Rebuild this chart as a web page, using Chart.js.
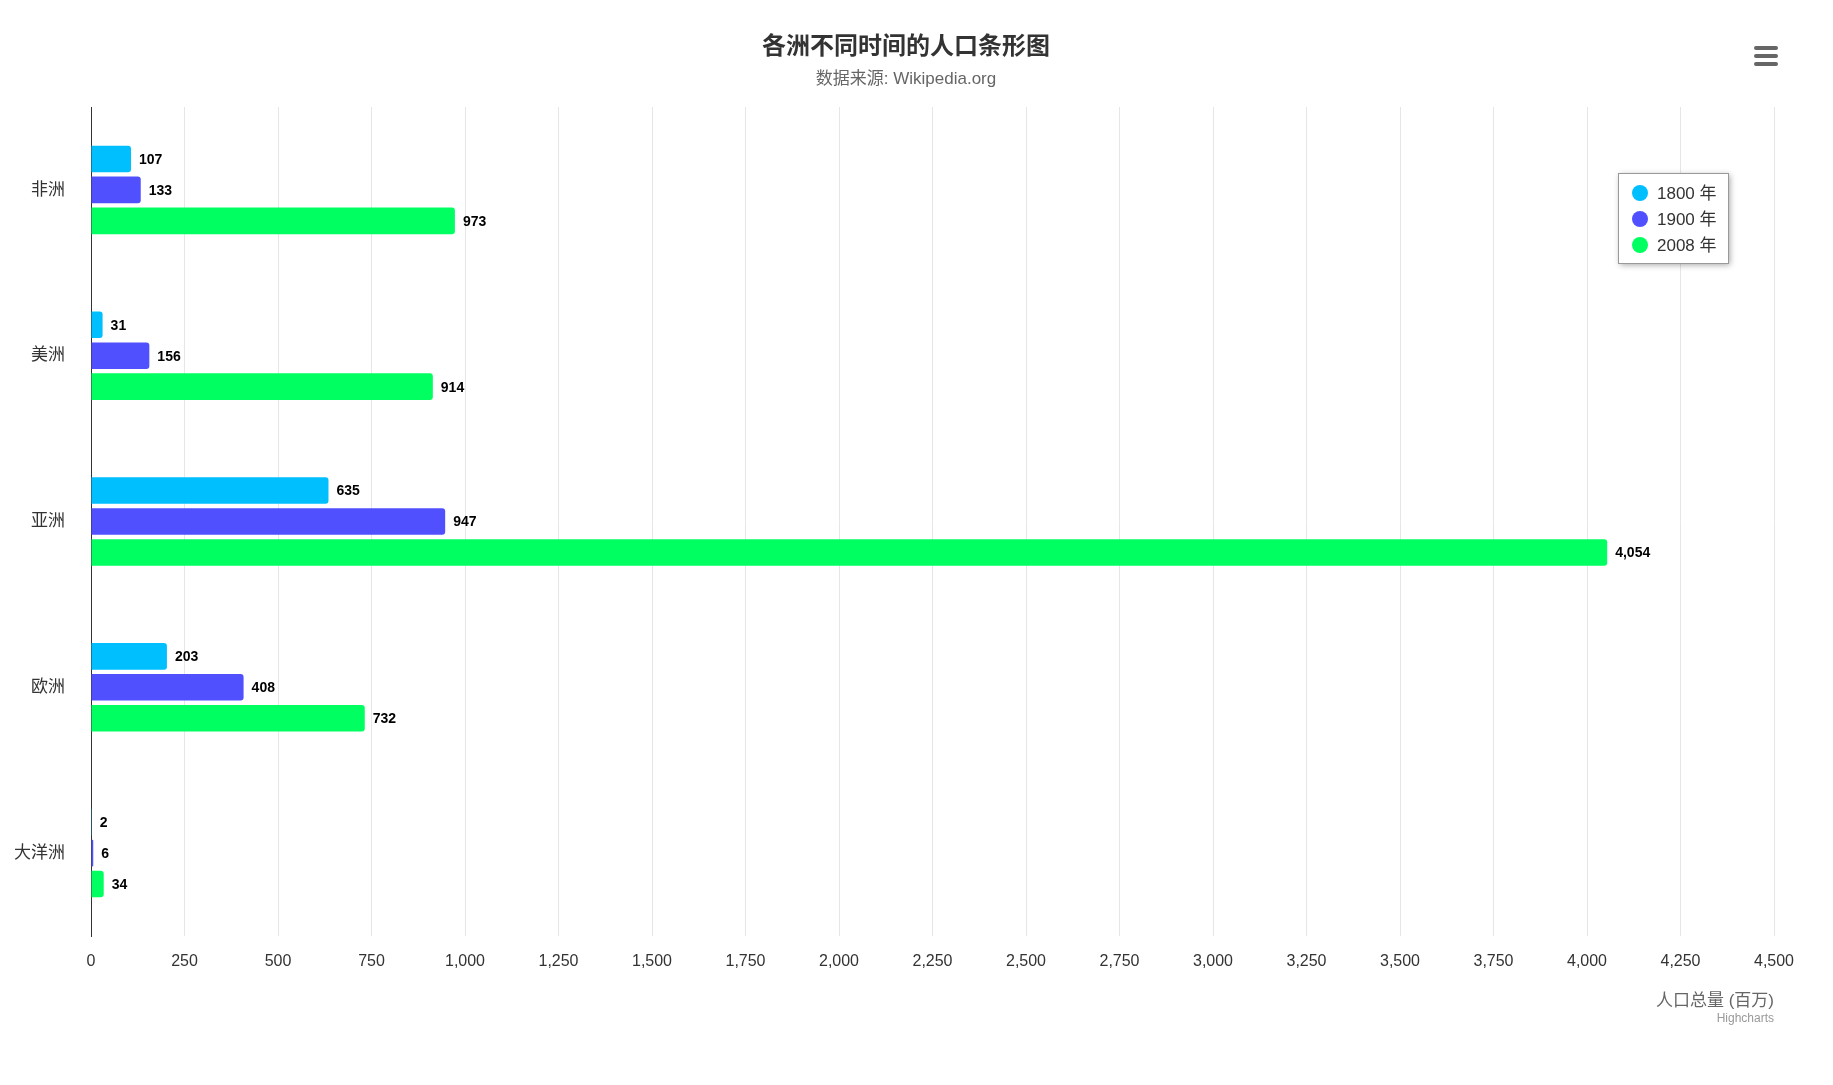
<!DOCTYPE html>
<html><head><meta charset="utf-8">
<script src="https://cdn.jsdelivr.net/npm/chart.js@4"></script>
<style>html,body{margin:0;padding:0;background:#fff}#w{width:1833px;height:1085px}</style>
</head><body><div id="w"><canvas id="c"></canvas></div>
<script>
const categories=['非洲','美洲','亚洲','欧洲','大洋洲'];
const s1800=[107,31,635,203,2];
const s1900=[133,156,947,408,6];
const s2008=[973,914,4054,732,34];
const seriesNames=['1800 年','1900 年','2008 年'];
const colors=['#00BFFF','#5050FF','#00FF60'];
const FONT='"Liberation Sans", Arial, "Noto Sans CJK SC", sans-serif';
const deco={id:'deco',afterDraw(ch){
 const c=ch.ctx,a=ch.chartArea;c.save();
 c.textAlign='center';c.textBaseline='middle';
 c.fillStyle='#333';c.font='bold 24px '+FONT;c.fillText('各洲不同时间的人口条形图',906,47);
 c.fillStyle='#666';c.font='17px '+FONT;c.fillText('数据来源: Wikipedia.org',906,79);
 // labels
 c.font='bold 14px '+FONT;c.fillStyle='#000';c.textAlign='left';
 ch.data.datasets.forEach((d,i)=>{ch.getDatasetMeta(i).data.forEach((b,j)=>{
   c.fillText(d.data[j].toLocaleString('en-US'),b.x+8,b.y+1);});});
 // axis title
 c.textAlign='right';c.fillStyle='#666';c.font='17px '+FONT;c.fillText('人口总量 (百万)',a.right,1001);
 c.fillStyle='#999';c.font='12px '+FONT;c.fillText('Highcharts',a.right,1019);
 // legend
 c.shadowColor='rgba(0,0,0,0.35)';c.shadowBlur=6;c.shadowOffsetX=2;c.shadowOffsetY=2;
 c.fillStyle='#fff';c.fillRect(1618,173,110,90);c.shadowColor='transparent';
 c.strokeStyle='#999';c.lineWidth=1;c.strokeRect(1618.5,173.5,110,90);
 c.font='17px '+FONT;c.textAlign='left';
 seriesNames.forEach((n,i)=>{const y=193+i*26;c.fillStyle=colors[i];c.beginPath();c.arc(1640,y,8,0,Math.PI*2);c.fill();
   c.fillStyle='#333';c.fillText(n,1657,y+1);});
 // menu
 c.strokeStyle='#666';c.lineWidth=4;c.lineCap='round';
 [48,56,64].forEach(y=>{c.beginPath();c.moveTo(1756,y);c.lineTo(1776,y);c.stroke();});
 c.restore();}};
new Chart(document.getElementById('c'),{type:'bar',
 data:{labels:categories,datasets:[s1800,s1900,s2008].map((d,i)=>({label:seriesNames[i],data:d,backgroundColor:colors[i],borderRadius:{topRight:3,bottomRight:3},borderSkipped:false,categoryPercentage:0.56,barPercentage:0.86}))},
 options:{indexAxis:'y',responsive:true,maintainAspectRatio:false,animation:false,
  layout:{padding:{top:107,right:59,left:0,bottom:0}},
  plugins:{legend:{display:false},tooltip:{enabled:false}},
  scales:{
   x:{min:0,max:4500,ticks:{stepSize:250,color:'#333',font:{size:16,family:FONT},padding:16,maxRotation:0,autoSkip:false},
      grid:{color:'#e6e6e6',drawTicks:false},border:{display:false},afterFit(s){s.height=149;}},
   y:{ticks:{color:'#333',font:{size:17,family:FONT},padding:18},grid:{display:false},border:{display:true,color:'#333',width:1},afterFit(s){s.width=91;}}
  }},plugins:[deco]});
</script></body></html>
